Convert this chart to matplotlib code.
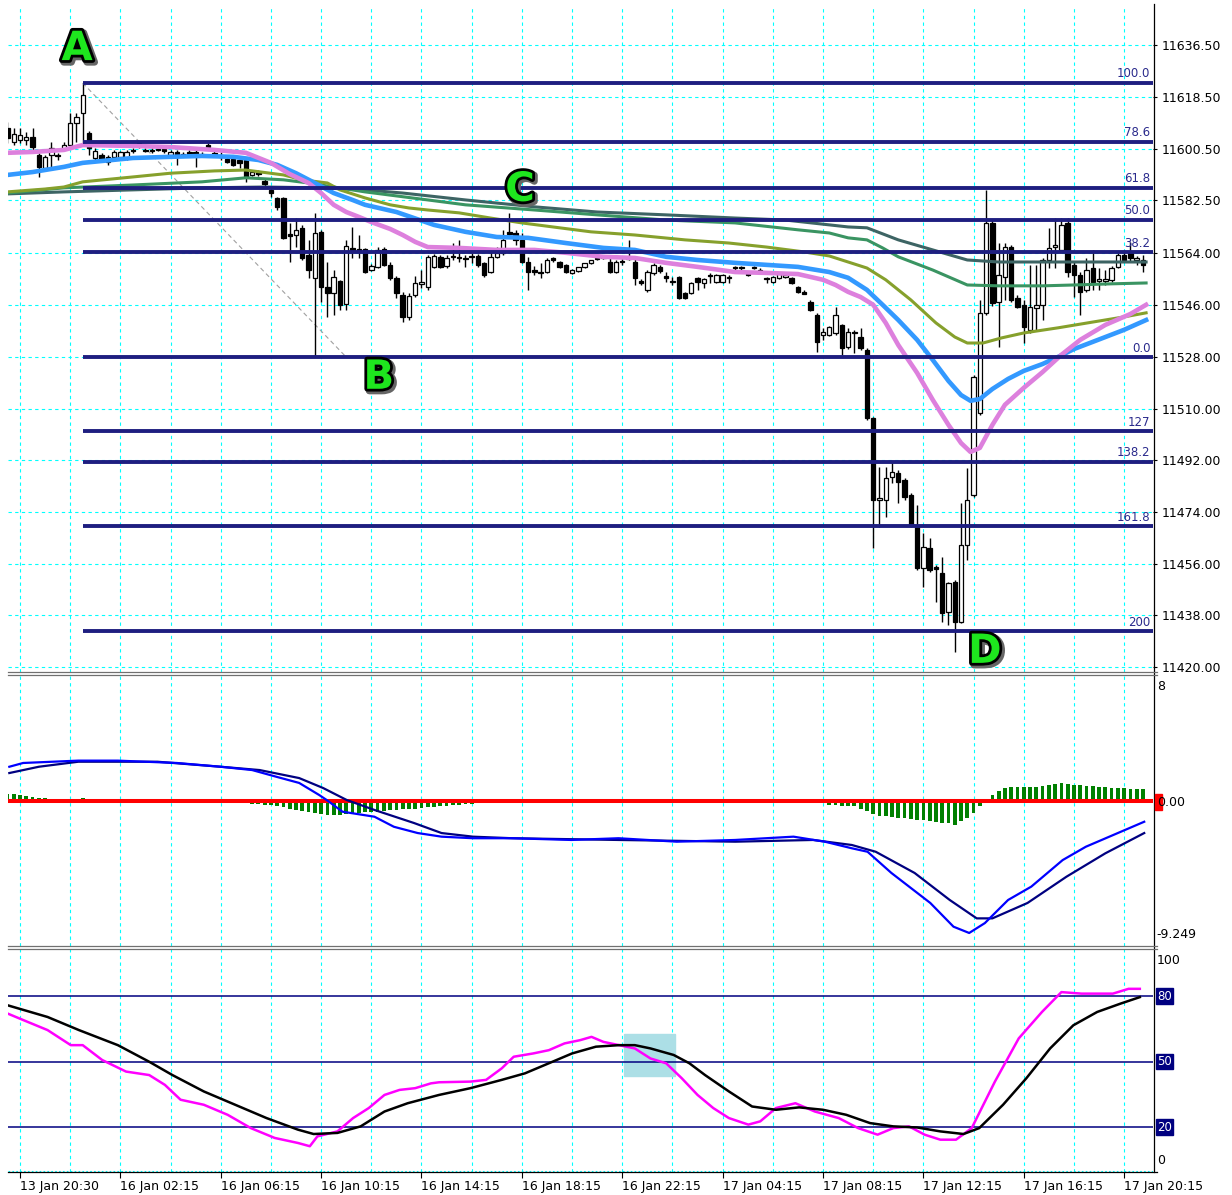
import matplotlib

matplotlib.use("Agg")
import matplotlib.pyplot as plt
import matplotlib.patheffects as pe
import numpy as np
from matplotlib.lines import Line2D
from matplotlib.patches import Rectangle
from matplotlib.transforms import blended_transform_factory

# ---- candles (15 min bars) ----
opens = [
    11607.7, 11602.8, 11603.5, 11603.5, 11604.5, 11598.3, 11593.7, 11598.3, 11598.3, 11600.3,
    11601.7, 11609.4, 11612.9, 11605.9, 11597.2, 11598.3, 11597.6, 11597.6, 11597.6, 11597.2,
    11600.0, 11602.4, 11600.0, 11599.7, 11600.3, 11600.3, 11598.3, 11599.3, 11598.6, 11599.3,
    11599.3, 11598.3, 11601.7, 11599.0, 11598.3, 11596.9, 11596.9, 11596.5, 11596.5, 11591.3,
    11592.3, 11589.2, 11586.1, 11583.3, 11583.3, 11570.8, 11570.4, 11572.9, 11563.5, 11555.5,
    11571.5, 11552.3, 11550.2, 11554.4, 11546.4, 11565.9, 11565.5, 11565.5, 11558.2, 11559.3,
    11565.5, 11560.0, 11555.5, 11549.5, 11541.9, 11549.5, 11553.4, 11552.3, 11559.3, 11562.8,
    11559.6, 11563.1, 11562.8, 11562.4, 11563.1, 11563.1, 11560.7, 11557.5, 11562.8, 11564.2,
    11571.5, 11571.1, 11568.7, 11561.0, 11558.2, 11557.5, 11557.5, 11562.4, 11561.0, 11560.0,
    11557.2, 11557.9, 11559.3, 11560.7, 11562.4, 11562.8, 11561.0, 11557.5, 11561.4, 11562.8,
    11561.0, 11554.4, 11551.3, 11557.2, 11559.3, 11556.2, 11554.4, 11555.8, 11550.2, 11550.2,
    11555.5, 11553.7, 11556.5, 11554.1, 11554.1, 11555.8, 11559.3, 11559.3, 11557.5, 11559.3,
    11558.2, 11555.5, 11554.1, 11555.5, 11555.8, 11555.5, 11552.3, 11550.6, 11547.1, 11542.6,
    11535.6, 11535.6, 11536.3, 11539.1, 11531.4, 11536.7, 11534.9, 11530.4, 11506.7, 11478.2,
    11478.2, 11486.2, 11487.6, 11485.2, 11479.9, 11468.8, 11454.5, 11461.5, 11454.9, 11452.8,
    11439.2, 11449.7, 11435.7, 11462.6, 11479.9, 11508.5, 11543.3, 11574.6, 11547.1, 11555.8,
    11566.2, 11548.5, 11546.1, 11537.4, 11545.0, 11546.1, 11561.7, 11566.2, 11565.2, 11574.6,
    11560.0, 11556.5, 11551.3, 11558.9, 11554.4, 11554.4, 11554.8, 11559.3, 11563.5, 11564.2,
    11561.7, 11561.7]
highs = [
    11609.7, 11607.7, 11607.7, 11606.3, 11607.7, 11599.0, 11598.3, 11602.8, 11599.0, 11602.8,
    11612.9, 11612.9, 11623.3, 11606.6, 11600.7, 11599.0, 11598.3, 11600.0, 11599.7, 11600.0,
    11600.7, 11603.1, 11600.7, 11600.7, 11601.0, 11600.7, 11600.0, 11600.0, 11599.3, 11600.0,
    11600.0, 11599.3, 11602.4, 11599.7, 11599.3, 11597.6, 11597.6, 11597.2, 11597.2, 11593.0,
    11593.0, 11589.9, 11586.8, 11583.6, 11583.6, 11574.6, 11576.3, 11573.9, 11568.7, 11578.1,
    11572.2, 11561.0, 11558.2, 11554.8, 11568.7, 11573.2, 11570.4, 11565.9, 11560.3, 11566.2,
    11566.2, 11561.0, 11556.2, 11550.6, 11550.2, 11556.2, 11558.2, 11563.5, 11563.8, 11563.5,
    11563.5, 11567.6, 11568.7, 11563.5, 11564.2, 11563.8, 11561.0, 11565.2, 11566.2, 11572.2,
    11578.1, 11572.2, 11571.1, 11562.8, 11559.6, 11560.7, 11562.4, 11562.8, 11561.4, 11560.3,
    11558.6, 11558.9, 11560.0, 11561.7, 11563.1, 11563.5, 11562.4, 11561.7, 11562.4, 11568.7,
    11562.4, 11555.1, 11558.2, 11560.7, 11560.0, 11557.5, 11555.8, 11556.2, 11550.6, 11554.1,
    11555.8, 11555.5, 11557.2, 11556.8, 11556.8, 11556.5, 11559.6, 11559.6, 11557.9, 11559.6,
    11558.9, 11555.8, 11556.2, 11557.5, 11556.8, 11555.8, 11552.7, 11551.3, 11547.8, 11543.3,
    11538.1, 11538.8, 11545.4, 11539.4, 11538.1, 11537.4, 11538.1, 11531.1, 11507.1, 11489.7,
    11489.7, 11491.4, 11488.6, 11485.9, 11480.6, 11476.5, 11466.7, 11465.0, 11455.6, 11458.4,
    11449.7, 11450.4, 11477.2, 11489.3, 11521.7, 11547.8, 11586.1, 11575.6, 11567.6, 11567.6,
    11566.9, 11549.5, 11547.8, 11560.0, 11560.0, 11562.4, 11572.9, 11576.3, 11576.3, 11576.3,
    11561.0, 11557.5, 11562.4, 11565.2, 11558.9, 11558.2, 11559.6, 11564.2, 11565.2, 11568.0,
    11563.1, 11563.5]
lows = [
    11602.4, 11601.7, 11602.4, 11601.7, 11600.0, 11590.6, 11593.0, 11593.7, 11596.5, 11600.0,
    11601.0, 11602.8, 11602.4, 11598.3, 11596.5, 11595.8, 11594.8, 11597.2, 11597.2, 11596.5,
    11599.0, 11600.7, 11599.3, 11599.0, 11599.7, 11599.0, 11597.9, 11594.8, 11597.9, 11597.9,
    11594.1, 11597.6, 11600.7, 11597.9, 11596.5, 11595.5, 11594.4, 11593.7, 11588.9, 11590.9,
    11590.9, 11587.5, 11583.6, 11579.1, 11569.0, 11561.0, 11566.2, 11561.7, 11555.5, 11527.9,
    11547.1, 11541.9, 11542.6, 11544.3, 11544.3, 11562.4, 11562.4, 11557.2, 11557.9, 11558.9,
    11559.6, 11554.8, 11548.5, 11540.1, 11540.8, 11548.8, 11552.0, 11551.3, 11558.9, 11558.9,
    11558.9, 11561.7, 11561.0, 11559.3, 11560.7, 11559.3, 11555.8, 11557.2, 11562.4, 11563.5,
    11570.1, 11566.9, 11560.7, 11551.3, 11556.5, 11555.5, 11557.2, 11561.0, 11558.9, 11557.2,
    11556.8, 11557.5, 11558.9, 11560.3, 11561.7, 11562.1, 11557.2, 11557.2, 11560.0, 11561.7,
    11553.0, 11553.0, 11550.6, 11556.5, 11557.2, 11554.1, 11553.0, 11548.1, 11548.1, 11549.9,
    11551.3, 11552.0, 11553.7, 11553.7, 11553.7, 11553.7, 11557.5, 11558.2, 11556.2, 11558.6,
    11557.5, 11553.7, 11553.7, 11555.1, 11555.5, 11553.4, 11550.2, 11549.9, 11544.0, 11529.7,
    11533.9, 11535.3, 11535.6, 11528.7, 11530.7, 11529.4, 11530.4, 11506.0, 11461.5, 11468.8,
    11472.3, 11484.1, 11477.2, 11478.2, 11468.8, 11453.8, 11447.9, 11453.1, 11442.7, 11435.7,
    11434.7, 11425.3, 11435.4, 11457.3, 11479.2, 11507.8, 11542.6, 11545.7, 11531.4, 11547.8,
    11547.1, 11545.0, 11532.8, 11536.3, 11537.4, 11540.8, 11558.9, 11558.9, 11564.5, 11555.8,
    11548.8, 11542.6, 11550.6, 11551.3, 11551.3, 11553.0, 11554.1, 11558.9, 11561.0, 11561.0,
    11560.0, 11557.5]
closes = [
    11604.2, 11605.6, 11605.2, 11604.5, 11601.0, 11594.1, 11597.6, 11600.7, 11597.9, 11601.7,
    11609.4, 11611.5, 11619.1, 11600.7, 11599.7, 11596.5, 11595.8, 11599.3, 11599.3, 11599.3,
    11599.7, 11601.4, 11599.7, 11600.0, 11600.0, 11599.7, 11599.3, 11598.3, 11598.3, 11598.3,
    11597.9, 11598.6, 11601.0, 11598.3, 11597.6, 11595.8, 11594.8, 11595.5, 11590.6, 11592.3,
    11591.6, 11588.2, 11585.0, 11580.2, 11569.4, 11570.1, 11572.2, 11562.4, 11558.2, 11571.1,
    11552.3, 11550.2, 11555.8, 11546.1, 11566.6, 11565.2, 11564.9, 11557.5, 11559.6, 11565.2,
    11560.0, 11555.5, 11550.2, 11541.9, 11549.2, 11553.7, 11554.1, 11562.8, 11563.1, 11559.3,
    11562.4, 11562.8, 11562.4, 11562.1, 11562.8, 11560.0, 11556.5, 11562.8, 11564.2, 11568.7,
    11570.8, 11568.7, 11561.0, 11557.5, 11557.5, 11557.2, 11561.7, 11561.7, 11559.3, 11557.5,
    11558.2, 11559.3, 11560.7, 11561.7, 11562.1, 11562.4, 11557.5, 11561.0, 11561.0, 11562.1,
    11555.5, 11553.7, 11557.5, 11560.0, 11557.9, 11555.5, 11554.1, 11548.5, 11548.5, 11553.7,
    11554.1, 11555.1, 11556.2, 11556.5, 11556.5, 11555.5, 11558.9, 11558.9, 11556.5, 11558.9,
    11557.9, 11555.1, 11555.8, 11557.2, 11556.5, 11553.7, 11550.6, 11549.9, 11544.3, 11533.2,
    11536.7, 11538.4, 11542.6, 11531.1, 11536.7, 11536.3, 11531.1, 11506.7, 11478.2, 11478.9,
    11485.9, 11487.9, 11484.5, 11479.2, 11469.5, 11454.5, 11461.8, 11453.8, 11454.2, 11438.9,
    11449.3, 11435.7, 11462.6, 11478.2, 11521.0, 11543.3, 11574.6, 11546.8, 11556.5, 11566.2,
    11547.8, 11545.4, 11538.4, 11545.4, 11546.1, 11561.7, 11565.9, 11566.9, 11573.9, 11557.5,
    11556.5, 11550.6, 11558.2, 11554.1, 11555.1, 11555.1, 11558.9, 11563.5, 11561.7, 11562.4,
    11562.4, 11560.0]

# ---- moving averages, read at selected bars ----
pink_x = [0, 4, 9, 12, 20, 26, 33, 38, 42, 45, 48, 50, 52, 54, 56, 58, 61, 63, 65, 67,
          72, 78, 84, 89, 95, 100, 105, 110, 116, 121, 126, 130, 132, 134, 136, 138, 140, 142,
          145, 147.5, 150, 152, 153.5, 155, 157, 159, 162, 165, 168, 171, 175, 179, 181.5]
pink_y = [11599.0, 11599.3, 11600.0, 11601.7, 11601.4, 11601.0, 11600.0, 11599.0, 11595.5, 11591.6,
          11588.5, 11585.0, 11580.9, 11578.4, 11576.7, 11574.9, 11572.5, 11570.4, 11568.0, 11566.2,
          11565.9, 11565.2, 11565.2, 11564.2, 11562.8, 11562.4, 11560.7, 11559.3, 11557.5, 11557.2,
          11556.8, 11554.8, 11553.0, 11550.6, 11548.8, 11546.1, 11539.8, 11532.1, 11522.4, 11513.0,
          11504.3, 11498.0, 11494.9, 11496.3, 11504.3, 11511.3, 11517.2, 11522.7, 11528.7, 11533.9,
          11539.1, 11542.9, 11546.1]
blue_x = [0, 4, 9, 12, 20, 26, 31, 36, 40, 43, 46, 49, 52, 55, 57, 62, 68, 73, 78, 83,
          89, 95, 100, 105, 110, 116, 121, 126, 131, 134, 137, 139.5, 142, 145, 147.5, 150, 152,
          153.5, 155, 157, 159.5, 162, 165, 167.5, 170, 173, 175.5, 178, 181.5]
blue_y = [11591.3, 11592.3, 11594.1, 11595.5, 11597.2, 11597.6, 11597.9, 11597.6, 11596.5, 11594.8,
          11591.9, 11588.5, 11585.0, 11582.6, 11580.9, 11578.4, 11573.9, 11571.5, 11569.7, 11569.4,
          11567.6, 11565.9, 11565.2, 11562.8, 11561.7, 11560.7, 11560.0, 11559.3, 11557.5, 11555.5,
          11551.3, 11546.1, 11540.8, 11533.9, 11526.9, 11519.6, 11514.7, 11512.7, 11513.3, 11516.8,
          11520.3, 11523.1, 11525.5, 11528.0, 11530.7, 11533.2, 11535.3, 11537.4, 11540.8]
olive_x = [0, 6, 9, 12, 20, 26, 33, 38, 44, 47, 51, 53, 57, 61, 64, 67, 72, 77, 82, 88,
           93, 100, 108, 115, 121, 127, 131, 134, 137, 140, 144, 148, 151, 153, 155.5, 158.5,
           162, 167.5, 173, 178, 181.5]
olive_y = [11585.4, 11586.4, 11587.1, 11588.9, 11590.6, 11591.9, 11592.7, 11593.0, 11591.3, 11589.6,
           11588.5, 11586.1, 11583.3, 11580.9, 11579.8, 11579.1, 11578.1, 11576.3, 11574.6, 11572.9,
           11571.5, 11570.4, 11568.7, 11567.6, 11566.2, 11564.5, 11563.1, 11561.0, 11558.9, 11554.8,
           11547.8, 11539.8, 11534.9, 11532.8, 11532.8, 11534.6, 11536.3, 11538.1, 11540.1, 11541.9,
           11543.3]
green_x = [0, 9, 20, 31, 38, 44, 48, 52, 57, 62, 67, 73, 84, 94, 105, 116, 126, 131, 134, 137,
           139.5, 142, 147.5, 153, 158, 165, 170, 176, 181.5]
green_y = [11585.0, 11586.8, 11587.8, 11588.9, 11590.3, 11589.6, 11588.5, 11587.1, 11585.4, 11584.0,
           11582.6, 11580.9, 11579.1, 11577.4, 11575.6, 11574.6, 11572.2, 11571.1, 11569.4, 11568.7,
           11565.9, 11562.8, 11558.2, 11553.0, 11552.7, 11552.7, 11553.0, 11553.4, 11553.7]
dark_x = [0, 9, 20, 31, 41, 50, 57, 63, 73, 84, 94, 105, 116, 124, 134, 137, 142, 147.5, 153,
          158, 165, 172, 181.5]
dark_y = [11584.7, 11585.4, 11586.1, 11586.8, 11587.1, 11586.8, 11586.1, 11585.0, 11582.6, 11580.2,
          11578.4, 11577.4, 11576.3, 11575.6, 11573.2, 11572.9, 11568.7, 11565.2, 11561.7, 11561.0,
          11561.0, 11561.0, 11561.0]

# ---- fibonacci: anchors are the A high (bar 12) and the B low (bar 49) ----
fib_pos = [1.0, 0.786, 0.618, 0.5, 0.382, 0.0, -0.27, -0.382, -0.618, -1.0]
fib_names = ["100.0", "78.6", "61.8", "50.0", "38.2", "0.0", "127", "138.2", "161.8", "200"]

price_ticks = [11636.5, 11618.5, 11600.5, 11582.5, 11564.0, 11546.0, 11528.0,
               11510.0, 11492.0, 11474.0, 11456.0, 11438.0, 11420.0]

# ---- MACD ----
macd_x = [0.3, 2.5, 11.3, 17.6, 27, 34, 39, 42.8, 46.5, 49.7, 50.9, 53.4, 58.5, 61.6, 65.4,
          69.2, 74.2, 80.5, 89.9, 97.4, 106.7, 116, 125.3, 130.3, 134.6, 137.1, 140.9, 147.1,
          150.8, 153.3, 155.8, 159.5, 163.2, 168.2, 171.9, 178.1, 181.2]
macd_y = [2.16, 2.40, 2.55, 2.55, 2.40, 2.16, 1.95, 1.53, 1.13, 0.36, 0.04, -0.70, -1.02, -1.66,
          -2.06, -2.29, -2.39, -2.39, -2.50, -2.39, -2.61, -2.50, -2.29, -2.61, -3.03, -3.25,
          -4.60, -6.51, -8.02, -8.42, -7.79, -6.32, -5.47, -3.78, -2.93, -1.87, -1.34]
sig_x = [0.3, 5, 11.3, 23.9, 34, 40.2, 46.5, 50.3, 54.1, 58.5, 64.8, 69.2, 74.2, 80.5, 97.4,
         116, 128.4, 134.6, 138.4, 144.6, 150.2, 154.5, 157, 162.6, 168.8, 175, 181.2]
sig_y = [1.76, 2.16, 2.48, 2.48, 2.16, 1.95, 1.44, 0.81, 0.04, -0.59, -1.42, -2.06, -2.29,
         -2.39, -2.50, -2.61, -2.50, -2.82, -3.25, -4.60, -6.32, -7.49, -7.49, -6.51, -4.84,
         -3.35, -2.06]
hist_start = [0, 11, 39, 131, 157]
hist_vals = [
    [0.45, 0.42, 0.38, 0.32, 0.26, 0.2, 0.15],
    [0.12, 0.14, 0.12],
    [-0.2, -0.22, -0.25, -0.3, -0.35, -0.42, -0.5, -0.58, -0.66, -0.74, -0.8, -0.85, -0.88,
     -0.9, -0.9, -0.86, -0.8, -0.76, -0.74, -0.72, -0.7, -0.66, -0.62, -0.6, -0.56, -0.52,
     -0.5, -0.46, -0.42, -0.4, -0.36, -0.33, -0.3, -0.27, -0.24, -0.2, -0.16, -0.12],
    [-0.3, -0.3, -0.32, -0.32, -0.36, -0.5, -0.68, -0.85, -0.95, -1.0, -1.04, -1.08, -1.13,
     -1.15, -1.2, -1.25, -1.32, -1.36, -1.4, -1.45, -1.53, -1.32, -1.1, -0.78, -0.36],
    [0.38, 0.6, 0.8, 0.86, 0.87, 0.87, 0.88, 0.9, 0.94, 1.0, 1.06, 1.12, 1.08, 1.02, 0.98,
     0.95, 0.92, 0.88, 0.86, 0.83, 0.8, 0.78, 0.76, 0.76, 0.76],
]

# ---- stochastic ----
stk_x = [0.1, 2.6, 6.4, 10.1, 12.0, 15.1, 18.9, 22.6, 25.1, 27.6, 31.3, 35.1, 38.8, 42.6, 46.3,
         48.2, 49.4, 52.6, 55.1, 57.6, 60.1, 62.5, 65.0, 67.5, 68.8, 73.8, 76.3, 78.8, 80.7,
         83.8, 86.3, 88.8, 91.3, 93.1, 95.0, 97.5, 100.0, 102.5, 105.0, 107.5, 110.0, 112.5,
         115.0, 118.1, 120.0, 122.5, 125.6, 128.7, 132.5, 135.6, 138.7, 141.2, 143.7, 146.2,
         148.7, 151.2, 153.7, 157.4, 161.2, 164.9, 168.0, 171.2, 176.2, 178.7, 180.5]
stk_y = [71.9, 68.9, 64.4, 57.5, 57.5, 50.7, 45.4, 43.8, 39.3, 32.5, 30.2, 25.6, 19.5, 15.0, 12.7,
         11.2, 15.7, 18.0, 24.1, 28.7, 34.7, 37.0, 37.8, 40.0, 40.5, 40.8, 41.6, 46.9, 52.2,
         53.7, 55.2, 58.3, 59.8, 61.3, 59.0, 57.5, 56.0, 51.4, 49.2, 42.3, 34.7, 28.7, 24.1,
         21.1, 22.6, 28.7, 30.9, 27.1, 24.1, 19.5, 16.5, 19.5, 20.3, 16.5, 14.2, 14.2, 19.5,
         40.8, 60.6, 72.7, 81.8, 81.1, 81.1, 83.3, 83.3]
std_x = [0.1, 6.4, 11.4, 17.6, 22.6, 26.3, 31.3, 36.3, 41.3, 46.3, 48.8, 52.6, 56.3, 60.1, 63.8,
         68.8, 73.8, 78.8, 82.5, 86.3, 90.0, 93.8, 97.5, 100.0, 102.5, 106.2, 108.7, 111.2,
         115.0, 118.7, 122.5, 126.2, 130.0, 133.7, 137.5, 141.2, 145.0, 148.7, 152.4, 154.9,
         158.7, 162.4, 166.2, 169.9, 173.7, 177.4, 180.5]
std_y = [75.7, 70.4, 64.4, 57.5, 49.9, 43.8, 36.3, 30.2, 24.1, 18.8, 16.8, 17.3, 20.3, 27.1, 30.9,
         34.7, 37.8, 41.6, 44.6, 49.2, 53.7, 56.8, 57.5, 57.5, 56.0, 53.0, 49.2, 43.8, 36.3,
         29.4, 27.9, 29.0, 27.9, 25.6, 21.8, 20.3, 19.8, 18.0, 16.8, 19.5, 30.2, 42.3, 56.0,
         66.6, 72.7, 76.5, 79.5]
stoch_levels = [80, 50, 20]

time_ticks = [2, 18, 34, 50, 66, 82, 98, 114, 130, 146, 162, 178]
time_labels = ["13 Jan 20:30", "16 Jan 02:15", "16 Jan 06:15", "16 Jan 10:15", "16 Jan 14:15",
               "16 Jan 18:15", "16 Jan 22:15", "17 Jan 04:15", "17 Jan 08:15", "17 Jan 12:15",
               "17 Jan 16:15", "17 Jan 20:15"]

W, H = 1232, 1195
GRID = "#00ffff"
NAVY = "#000080"


def px_rect(x0, y0, x1, y1):
    """Axes rect from pixel box (top-left origin)."""
    return [x0 / W, 1 - y1 / H, (x1 - x0) / W, (y1 - y0) / H]


def fx(x):
    return x / W


def fy(y):
    return 1 - y / H


fig = plt.figure(figsize=(W / 100, H / 100), dpi=100)
fig.patch.set_facecolor("white")
ax = fig.add_axes(px_rect(8, 8, 1153, 672))
axm = fig.add_axes(px_rect(8, 675, 1153, 946))
axs = fig.add_axes(px_rect(8, 948, 1153, 1172))

xlim = (0.09, 182.6)
for a in (ax, axm, axs):
    a.set_xlim(*xlim)
    for s in a.spines.values():
        s.set_visible(False)
    a.set_facecolor("white")
    for gx in range(2, 183, 8):
        a.axvline(gx, color=GRID, lw=0.8, ls=(0, (3, 3)), zorder=0)

# ---------------- main price panel ----------------
ax.set_ylim(11418.3, 11649.4)
for p in price_ticks:
    ax.axhline(p, color=GRID, lw=0.8, ls=(0, (3, 3)), zorder=0)

o, hi, lo, c = map(np.asarray, (opens, highs, lows, closes))
idx = np.arange(len(o))
ax.vlines(idx, lo, hi, color="black", lw=1.0, zorder=3)
ax.bar(idx, c - o, bottom=o, width=0.7,
       color=np.where(c >= o, "white", "black"), edgecolor="black", lw=0.9, zorder=4)

ax.plot(dark_x, dark_y, color="#3d6464", lw=2.2, zorder=5)
ax.plot(green_x, green_y, color="#3a9462", lw=2.2, zorder=5)
ax.plot(olive_x, olive_y, color="#86a02c", lw=2.2, zorder=5)
ax.plot(blue_x, blue_y, color="#3399ff", lw=3.3, zorder=5)
ax.plot(pink_x, pink_y, color="#dd80dd", lw=3.3, zorder=5)

fib_hi, fib_lo = hi[12], lo[49]
ax.plot([12, 54], [fib_hi, fib_lo], color="#a0a0a0", lw=0.8, ls=(0, (4, 3)), zorder=2)
for pos, name in zip(fib_pos, fib_names):
    lvl = fib_lo + (fib_hi - fib_lo) * pos
    ax.plot([12, xlim[1]], [lvl, lvl], color="#1e1e80", lw=2.8, zorder=6,
            solid_capstyle="butt")
    ax.text(182.2, lvl + 0.9, name, ha="right", va="bottom", fontsize=8.5,
            color="#2a2a8c", zorder=7)

ax.yaxis.tick_right()
ax.set_yticks(price_ticks)
ax.set_yticklabels([f"{p:.2f}" for p in price_ticks])
ax.tick_params(axis="y", length=3, width=0.8, pad=3, labelsize=9)
ax.tick_params(axis="x", bottom=False, labelbottom=False)

wave = [("A", 11.1, 11635.1), ("B", 59.2, 11520.7), ("C", 81.7, 11586.1), ("D", 155.8, 11425.3)]
fx_letters = [pe.Stroke(offset=(1.5, -1.5), linewidth=5, foreground="#666666"),
              pe.Stroke(linewidth=4, foreground="black"), pe.Normal()]
for s, xx, yy in wave:
    ax.text(xx, yy, s, ha="center", va="center", fontsize=29, fontweight="bold",
            color="#1ee61e", path_effects=fx_letters, zorder=10)

# ---------------- MACD panel ----------------
axm.set_ylim(-9.249, 8)
for st, vals in zip(hist_start, hist_vals):
    axm.bar(np.arange(st, st + len(vals)), vals, width=0.6, color="#008000", zorder=2)
axm.axhline(0, color="#ff0000", lw=2.9, zorder=3)
axm.plot(sig_x, sig_y, color="#000080", lw=1.6, zorder=4)
axm.plot(macd_x, macd_y, color="#0000ff", lw=1.6, zorder=4)
axm.set_yticks([])
axm.tick_params(axis="x", bottom=False, labelbottom=False)

fig.text(fx(1157), fy(686), "8", va="center", fontsize=9)
fig.patches.append(Rectangle((fx(1155), fy(810)), 7 / W, 16 / H,
                             transform=fig.transFigure, color="#ff0000", zorder=5))
fig.text(fx(1157), fy(802), "0.00", va="center", fontsize=9, zorder=6)
fig.text(fx(1156), fy(935), "-9.249", va="center", fontsize=9)

# ---------------- stochastic panel ----------------
axs.set_ylim(-0.6, 102)
axs.axhline(0, color=GRID, lw=0.8, ls=(0, (1.5, 2)), zorder=0)
axs.add_patch(Rectangle((98.3, 43.4), 8.1, 19.2, color="#acdfe6", zorder=1))
for lv in stoch_levels:
    axs.axhline(lv, color=NAVY, lw=1.1, zorder=2)
axs.plot(std_x, std_y, color="black", lw=1.8, zorder=4)
axs.plot(stk_x, stk_y, color="#ff00ff", lw=1.8, zorder=3)

bt = blended_transform_factory(axs.transAxes, axs.transData)
for lv in stoch_levels:
    axs.text(1.0035, lv, str(lv), transform=bt, ha="left", va="center", fontsize=8.5,
             color="white", bbox=dict(boxstyle="square,pad=0.12", fc=NAVY, ec=NAVY))
fig.text(fx(1157), fy(961), "100", va="center", fontsize=9)
fig.text(fx(1157), fy(1160), "0", va="center", fontsize=9)
axs.set_yticks([])

axs.set_xticks(time_ticks)
axs.set_xticklabels(time_labels, fontsize=9)
for lab in axs.get_xticklabels():
    lab.set_ha("left")
axs.tick_params(axis="x", length=4, width=0.8, pad=2, direction="out")

# ---------------- frame lines ----------------
frame = [
    ((1153.5, 1153.5), (4, 1172)),
    ((8, 1157), (671.5, 671.5)), ((8, 1157), (674.5, 674.5)),
    ((8, 1157), (946.0, 946.0)), ((8, 1157), (948.5, 948.5)),
    ((8, 1157), (1172, 1172)),
]
for xs, ys in frame:
    col = "black" if xs[0] == xs[1] or ys[0] == 1172 else "#707070"
    fig.add_artist(Line2D([fx(v) for v in xs], [fy(v) for v in ys], color=col,
                          lw=0.9, transform=fig.transFigure))

fig.savefig("out.png", dpi=100)
